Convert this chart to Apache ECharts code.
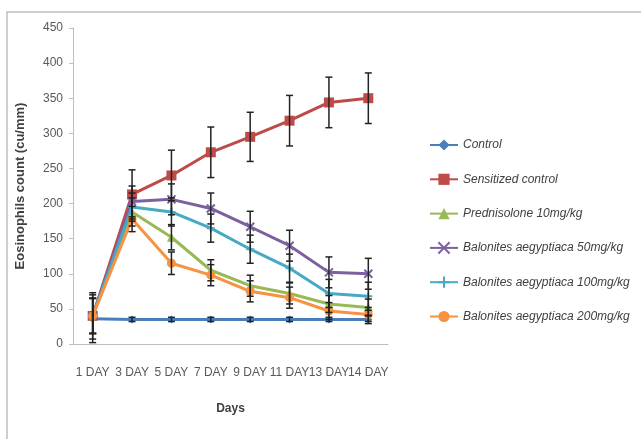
<!DOCTYPE html>
<html><head><meta charset="utf-8">
<script src="https://cdn.jsdelivr.net/npm/echarts@6/dist/echarts.min.js"></script>
<style>html,body{margin:0;padding:0;background:#fff}#c{width:641px;height:439px}</style>
</head><body><div id="c"></div>
<script>
const categories = ['1 DAY','3 DAY','5 DAY','7 DAY','9 DAY','11 DAY','13 DAY','14 DAY'];
const yTicks = [0,50,100,150,200,250,300,350,400,450];
const seriesNames = ['Control','Sensitized control','Prednisolone 10mg/kg','Balonites aegyptiaca 50mg/kg','Balonites aegyptiaca 100mg/kg','Balonites aegyptiaca 200mg/kg'];
const control      = [36, 35, 35, 35, 35, 35, 35, 35];
const sensitized   = [40, 213, 240, 273, 295, 318, 344, 350];
const prednisolone = [40, 188, 152, 105, 83, 72, 57, 52];
const bal50        = [40, 203, 206, 193, 167, 140, 102, 100];
const bal100       = [40, 195, 188, 165, 135, 108, 72, 68];
const bal200       = [40, 178, 115, 98, 75, 66, 47, 42];
const controlErr      = [34, 3, 3, 3, 3, 3, 3, 6];
const sensitizedErr   = [33, 35, 36, 36, 35, 36, 36, 36];
const prednisoloneErr = [25, 20, 18, 15, 15, 15, 12, 12];
const bal50Err        = [25, 22, 22, 22, 22, 22, 22, 22];
const bal100Err       = [25, 20, 20, 20, 20, 20, 20, 20];
const bal200Err       = [25, 18, 16, 15, 15, 15, 12, 10];

const values = [control, sensitized, prednisolone, bal50, bal100, bal200];
const errs = [controlErr, sensitizedErr, prednisoloneErr, bal50Err, bal100Err, bal200Err];
const colors = ['#4a7ebb','#be4b48','#98b954','#7d60a0','#46aac5','#f69240'];
const symbols = ['diamond','rect','triangle','path://M0,0 L10,10 M10,0 L0,10','path://M5,0 L5,10 M0,5 L10,5','circle'];
const sizes = [8,10,9,8,8,9];

const chart = echarts.init(document.getElementById('c'));
const FONT = '"Liberation Sans",sans-serif';

const series = [];
values.forEach((v,i)=>{
  series.push({
    name: seriesNames[i], type:'line', data:v, symbol:symbols[i], symbolSize:sizes[i],
    lineStyle:{width:3,color:colors[i]}, itemStyle:{color:colors[i], borderColor:colors[i], borderWidth: (i===3||i===4)?2:0},
    z: 2+i
  });
});
values.forEach((v,i)=>{
  series.push({
    type:'custom', z:20, silent:true,
    data: v.map((val,j)=>[j, val-errs[i][j], val+errs[i][j]]),
    renderItem:(params, api)=>{
      const x = api.value(0);
      const lo = api.coord([x, api.value(1)]);
      const hi = api.coord([x, api.value(2)]);
      const w = 3.5;
      const st = {stroke:'#222', lineWidth:1.5};
      return {type:'group', children:[
        {type:'line', shape:{x1:lo[0],y1:lo[1],x2:hi[0],y2:hi[1]}, style:st},
        {type:'line', shape:{x1:lo[0]-w,y1:lo[1],x2:lo[0]+w,y2:lo[1]}, style:st},
        {type:'line', shape:{x1:hi[0]-w,y1:hi[1],x2:hi[0]+w,y2:hi[1]}, style:st}
      ]};
    }
  });
});

chart.setOption({
  animation:false,
  backgroundColor:'#fff',
  graphic:[{type:'rect', shape:{x:7,y:12,width:640,height:440}, style:{fill:'none', stroke:'#bfbfbf', lineWidth:1.5}}],
  grid:{left:73, right:253, top:28, bottom:95},
  legend:{
    orient:'vertical', left:424, top:133, itemGap:20.3, itemWidth:28, itemHeight:14,
    data: seriesNames,
    textStyle:{fontFamily:FONT, fontSize:12, fontStyle:'italic', color:'#404040', lineHeight:14}
  },
  xAxis:{
    type:'category', data:categories, boundaryGap:true,
    name:'Days', nameLocation:'middle', nameGap:59,
    nameTextStyle:{fontFamily:FONT, fontSize:12, fontWeight:'bold', color:'#404040'},
    axisLine:{lineStyle:{color:'#bfbfbf', width:1}},
    axisTick:{show:false},
    axisLabel:{fontFamily:FONT, fontSize:12, color:'#595959', margin:23, interval:0}
  },
  yAxis:{
    type:'value', min:yTicks[0], max:yTicks[yTicks.length-1], interval:50,
    name:'Eosinophils count (cu/mm)', nameLocation:'middle', nameGap:46,
    nameTextStyle:{fontFamily:FONT, fontSize:13, fontWeight:'bold', color:'#404040'},
    axisLine:{show:true, lineStyle:{color:'#bfbfbf'}},
    axisTick:{show:true, length:4, lineStyle:{color:'#bfbfbf'}},
    splitLine:{show:false},
    axisLabel:{fontFamily:FONT, fontSize:12, color:'#595959', margin:10}
  },
  series
});
</script></body></html>
